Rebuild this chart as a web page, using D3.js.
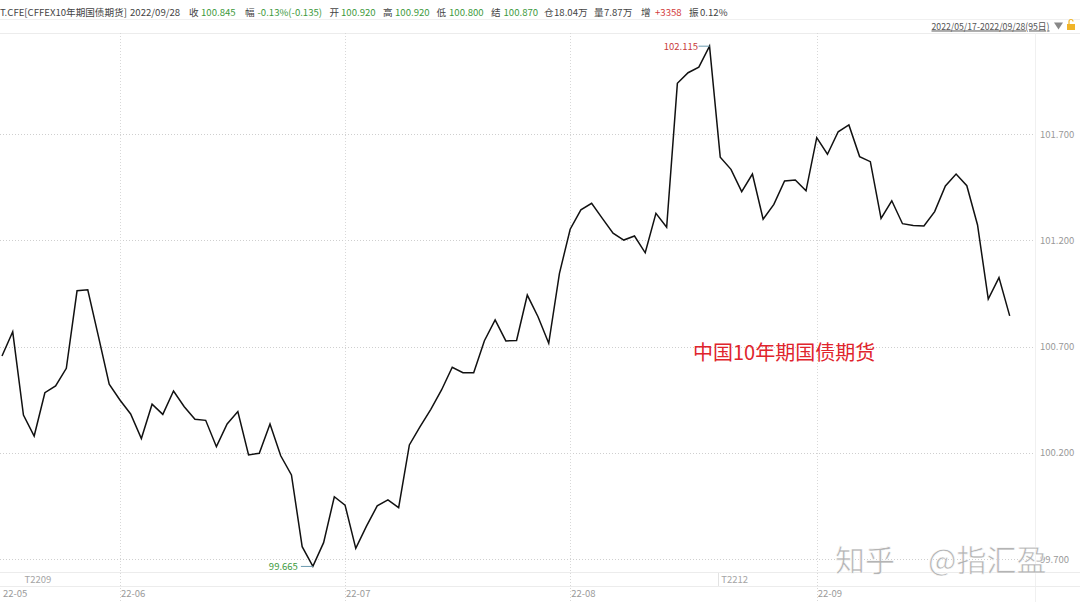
<!DOCTYPE html>
<html><head><meta charset="utf-8">
<script src="https://cdn.jsdelivr.net/npm/d3@7/dist/d3.min.js"></script>
<style>
html,body{margin:0;padding:0;background:#fff;}
svg{display:block;font-family:"Noto Sans CJK SC","Noto Sans",sans-serif;}
</style></head>
<body>
<svg id="c" width="1080" height="602"></svg>
<script>
// ---- data ----
const closes = [
100.656,100.770,100.378,100.279,100.483,100.515,100.598,100.963,100.968,100.747,
100.523,100.449,100.383,100.267,100.429,100.381,100.491,100.417,100.358,100.353,
100.229,100.336,100.394,100.190,100.198,100.336,100.186,100.096,99.758,99.665,
99.777,99.993,99.954,99.750,99.855,99.950,99.978,99.942,100.237,100.323,
100.405,100.496,100.603,100.577,100.577,100.728,100.826,100.727,100.729,100.943,
100.841,100.716,101.045,101.253,101.344,101.375,101.304,101.234,101.202,101.221,
101.142,101.328,101.262,101.940,101.990,102.016,102.115,101.592,101.535,101.430,
101.513,101.300,101.370,101.480,101.485,101.434,101.684,101.606,101.712,101.744,
101.595,101.571,101.304,101.387,101.279,101.270,101.268,101.336,101.457,101.513,
101.458,101.273,100.924,101.025,100.845];
const monthLabels = ["22-05","22-06","22-07","22-08","22-09"];
const monthIdx = [0,11,32,53,76];
const contractLabels = ["T2209","T2212"];
const contractIdx = [2,67];
const yTicks = [99.7,100.2,100.7,101.2,101.7];
const headerItems = [
  {t:"T.CFE[CFFEX10年期国债期货]", c:"#444"},
  {t:"2022/09/28", c:"#444"},
  {t:"收", c:"#444"},{t:"100.845", c:"#3d9a3d"},
  {t:"幅", c:"#444"},{t:"-0.13%(-0.135)", c:"#3d9a3d"},
  {t:"开", c:"#444"},{t:"100.920", c:"#3d9a3d"},
  {t:"高", c:"#444"},{t:"100.920", c:"#3d9a3d"},
  {t:"低", c:"#444"},{t:"100.800", c:"#3d9a3d"},
  {t:"结", c:"#444"},{t:"100.870", c:"#3d9a3d"},
  {t:"仓", c:"#444"},{t:"18.04万", c:"#444"},
  {t:"量", c:"#444"},{t:"7.87万", c:"#444"},
  {t:"增", c:"#444"},{t:"+3358", c:"#d23c3c"},
  {t:"振", c:"#444"},{t:"0.12%", c:"#444"}
];
const headerX = [0,130,189,201,245,257.5,329.5,341,383,395,436.5,449,491,503.5,544,554,594,604,641,655,689,700];
const rangeText = "2022/05/17-2022/09/28(95日)";
const titleText = "中国10年期国债期货";

// ---- chart ----
const svg = d3.select("#c");
const x = d3.scaleLinear().domain([0, closes.length-1]).range([2, 1009.7]);
const y = d3.scaleLinear().domain([99.7, 101.7]).range([559, 134.3]);
const plotTop = 33, plotRight = 1035;

// header
svg.selectAll("text.h").data(headerItems).enter().append("text")
  .attr("x",(d,i)=>headerX[i]).attr("y",15.5)
  .attr("font-size",9.6).attr("fill",d=>d.c).text(d=>d.t);
svg.append("line").attr("x1",0).attr("x2",1080).attr("y1",19.5).attr("y2",19.5)
  .attr("stroke","#f0f0f0");
svg.append("text").attr("x",931.5).attr("y",29.5).attr("font-size",9.6)
  .attr("fill","#555").attr("text-decoration","underline")
  .attr("textLength",118).attr("lengthAdjust","spacingAndGlyphs").text(rangeText);
svg.append("path").attr("d","M1054,22.5 L1063,22.5 L1058.5,29.5 Z").attr("fill","#888");
svg.append("rect").attr("x",1067).attr("y",24).attr("width",8).attr("height",6).attr("fill","#f0b429");
svg.append("path").attr("d","M1069,24 V21.5 a2,2 0 0 1 4,0").attr("fill","none").attr("stroke","#f0b429").attr("stroke-width",1.2);

// frame lines
svg.append("line").attr("x1",0).attr("x2",1080).attr("y1",plotTop+0.5).attr("y2",plotTop+0.5).attr("stroke","#ececec");
svg.append("line").attr("x1",plotRight+0.5).attr("x2",plotRight+0.5).attr("y1",plotTop).attr("y2",602).attr("stroke","#f0f0f0");
svg.append("line").attr("x1",0).attr("x2",1080).attr("y1",572.5).attr("y2",572.5).attr("stroke","#ececec");
svg.append("line").attr("x1",0).attr("x2",1080).attr("y1",586.5).attr("y2",586.5).attr("stroke","#ececec");

// horizontal grid
svg.selectAll("line.hg").data(yTicks).enter().append("line")
  .attr("x1",0).attr("x2",plotRight).attr("y1",d=>Math.round(y(d))+0.5).attr("y2",d=>Math.round(y(d))+0.5)
  .attr("stroke","#cfcfcf").attr("stroke-dasharray","1,2");
// right axis labels
svg.selectAll("text.yl").data(yTicks).enter().append("text")
  .attr("x",1040).attr("y",d=>y(d)+3.5).attr("font-size",9.5).attr("fill","#999")
  .text(d=>d3.format(".3f")(d));

// vertical grid
svg.selectAll("line.vg").data(monthIdx.slice(1)).enter().append("line")
  .attr("x1",d=>Math.round(x(d))+0.5).attr("x2",d=>Math.round(x(d))+0.5)
  .attr("y1",plotTop).attr("y2",602)
  .attr("stroke","#d8d8d8").attr("stroke-dasharray","1,2");
svg.selectAll("line.cg").data(contractIdx.slice(1)).enter().append("line")
  .attr("x1",d=>Math.round(x(d))-1.5).attr("x2",d=>Math.round(x(d))-1.5)
  .attr("y1",573).attr("y2",586).attr("stroke","#e3e3e3");

// month labels
svg.selectAll("text.ml").data(monthLabels).enter().append("text")
  .attr("x",(d,i)=>x(monthIdx[i])+1).attr("y",597).attr("font-size",9.5).attr("fill","#9a9a9a").text(d=>d);
// contract labels
svg.selectAll("text.cl").data(contractLabels).enter().append("text")
  .attr("x",(d,i)=>x(contractIdx[i])+1).attr("y",583).attr("font-size",9.5).attr("fill","#a5a5a5").text(d=>d);

// price line
const line = d3.line().x((d,i)=>x(i)).y(d=>y(d));
svg.append("path").datum(closes).attr("d",line).attr("fill","none")
  .attr("stroke","#111").attr("stroke-width",1.5).attr("stroke-linejoin","miter");

// max / min markers
const maxI = d3.maxIndex(closes), minI = d3.minIndex(closes);
svg.append("line").attr("x1",x(maxI)-11).attr("x2",x(maxI)).attr("y1",y(closes[maxI])).attr("y2",y(closes[maxI])).attr("stroke","#6a9ab0");
svg.append("text").attr("x",x(maxI)-11.5).attr("y",y(closes[maxI])+3.5).attr("text-anchor","end")
  .attr("font-size",9.5).attr("fill","#c83a3a").text(d3.format(".3f")(closes[maxI]));
svg.append("line").attr("x1",x(minI)-12).attr("x2",x(minI)).attr("y1",y(closes[minI])).attr("y2",y(closes[minI])).attr("stroke","#6a9ab0");
svg.append("text").attr("x",x(minI)-15).attr("y",y(closes[minI])+3.5).attr("text-anchor","end")
  .attr("font-size",9.5).attr("fill","#3d9a3d").text(d3.format(".3f")(closes[minI]));

// title
svg.append("text").attr("x",693).attr("y",360).attr("font-size",20).attr("fill","#e0242c").text(titleText);

// watermark (covers the lowest axis label partially, as in the original)
svg.append("text").attr("x",835).attr("y",571).attr("font-size",30).attr("fill","#b4b4b4")
  .attr("stroke","#fff").attr("stroke-width",0.6).text("知乎");
svg.append("text").attr("x",928).attr("y",571).attr("font-size",30).attr("fill","#b4b4b4")
  .attr("stroke","#fff").attr("stroke-width",0.6).text("@指汇盈");
</script>
</body></html>
